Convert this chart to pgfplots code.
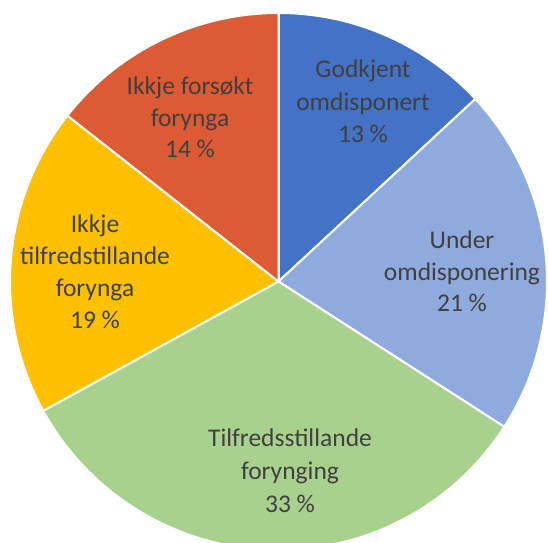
\documentclass[border=0pt]{standalone}
\usepackage{pgfplots}
\pgfplotsset{compat=1.18}
\usepackage{fontspec}
\setmainfont{Carlito}
\definecolor{cA}{HTML}{4472C4}
\definecolor{cB}{HTML}{8FAADC}
\definecolor{cC}{HTML}{A9D18E}
\definecolor{cD}{HTML}{FFC000}
\definecolor{cE}{HTML}{DD5B34}
\definecolor{txt}{HTML}{404040}
\begin{document}
\begin{tikzpicture}
\useasboundingbox (0,0) rectangle (548bp,543bp);
\begin{axis}[
  at={(0,0)}, anchor=south west,
  width=548bp, height=543bp, scale only axis,
  xmin=0, xmax=548, ymin=0, ymax=543,
  hide axis, clip=false,
]
\pgfplotsextra{
  \xdef\startang{90}
  \foreach \v/\c in {13.1/cA,21.0/cB,32.9/cC,18.6/cD,14.4/cE} {
    \pgfmathsetmacro{\endang}{\startang-3.6*\v}
    \filldraw[fill=\c, draw=white, line width=2bp, line join=round]
      (axis cs:278.5,261.5) -- ++(\startang:268.5bp and 268.5bp)
      arc[start angle=\startang, end angle=\endang, x radius=268.5bp, y radius=268.5bp] -- cycle;
    \xdef\startang{\endang}
  }
}
\pgfplotsextra{
\begin{scope}[every node/.style={anchor=base, text=txt, inner sep=0pt, font=\fontsize{25.5bp}{30bp}\selectfont}]
  % Godkjent omdisponert
  \node at (axis cs:363,465) {Godkjent};
  \node at (axis cs:363,432.5) {omdisponert};
  \node at (axis cs:363,400) {13 \%};
  % Under omdisponering
  \node at (axis cs:462,294) {Under};
  \node at (axis cs:462,262) {omdisponering};
  \node at (axis cs:462,231) {21 \%};
  % Tilfredsstillande forynging
  \node at (axis cs:290,96) {Tilfredsstillande};
  \node at (axis cs:290,63.5) {forynging};
  \node at (axis cs:290,31) {33 \%};
  % Ikkje tilfredsstillande forynga
  \node at (axis cs:95,310) {Ikkje};
  \node at (axis cs:95,278) {tilfredstillande};
  \node at (axis cs:95,246) {forynga};
  \node at (axis cs:95,214) {19 \%};
  % Ikkje forsøkt forynga
  \node at (axis cs:190,448) {Ikkje forsøkt};
  \node at (axis cs:190,416) {forynga};
  \node at (axis cs:190,385) {14 \%};
\end{scope}
}
\end{axis}
\end{tikzpicture}
\end{document}
